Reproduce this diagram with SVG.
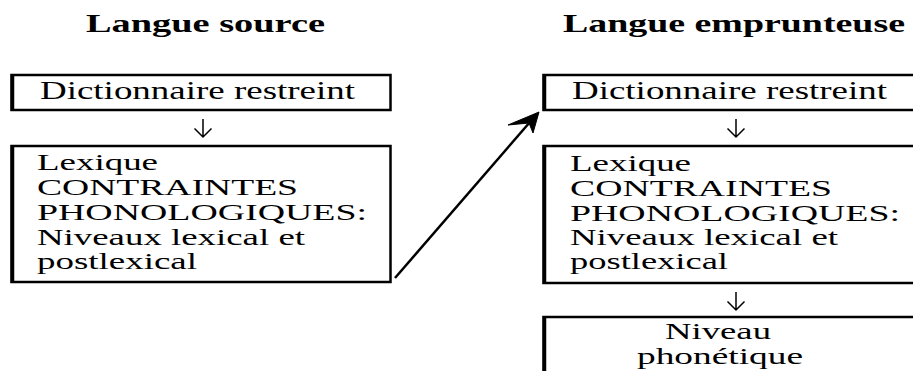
<svg xmlns="http://www.w3.org/2000/svg" width="913" height="371" viewBox="0 0 913 371">
<style>
text{font-family:'Liberation Serif','Times New Roman',Times,serif;fill:#000}
.t{font-size:24px}
.d{font-size:26px}
.h{font-size:25px;font-weight:bold}
.box{fill:#fff;stroke:#000;stroke-width:2.5}
.edge{stroke:#000;stroke-width:3.5}
.ln{fill:none;stroke:#000;stroke-width:1.5}
.diag{fill:none;stroke:#000;stroke-width:2.5}
</style>
<rect width="913" height="371" fill="#fff"/>
<text class="h" x="86" y="32" textLength="239" lengthAdjust="spacingAndGlyphs">Langue source</text>
<text class="h" x="563" y="32" textLength="342" lengthAdjust="spacingAndGlyphs">Langue emprunteuse</text>

<g id="src-dict">
<rect class="box" x="11.5" y="75" width="379" height="35"/>
<line class="edge" x1="12.5" y1="74" x2="12.5" y2="111"/>
<text class="d" x="40" y="99" textLength="315" lengthAdjust="spacingAndGlyphs">Dictionnaire restreint</text>
</g>
<g id="src-lex">
<rect class="box" x="11.5" y="146" width="379" height="136"/>
<line class="edge" x1="12.5" y1="145" x2="12.5" y2="283"/>
<text class="t" x="37" y="170" textLength="121" lengthAdjust="spacingAndGlyphs">Lexique</text>
<text class="t" x="37" y="195" textLength="261" lengthAdjust="spacingAndGlyphs">CONTRAINTES</text>
<text class="t" x="37" y="220" textLength="330" lengthAdjust="spacingAndGlyphs">PHONOLOGIQUES:</text>
<text class="t" x="37" y="245" textLength="268" lengthAdjust="spacingAndGlyphs">Niveaux lexical et</text>
<text class="t" x="37" y="269" textLength="160" lengthAdjust="spacingAndGlyphs">postlexical</text>
</g>
<g id="dst-dict">
<rect class="box" x="543.5" y="75" width="380" height="35"/>
<line class="edge" x1="544.5" y1="74" x2="544.5" y2="111"/>
<text class="d" x="572" y="99" textLength="315" lengthAdjust="spacingAndGlyphs">Dictionnaire restreint</text>
</g>
<g id="dst-lex">
<rect class="box" x="543.5" y="146" width="380" height="137"/>
<line class="edge" x1="544.5" y1="145" x2="544.5" y2="284"/>
<text class="t" x="570" y="171" textLength="121" lengthAdjust="spacingAndGlyphs">Lexique</text>
<text class="t" x="570" y="196" textLength="262" lengthAdjust="spacingAndGlyphs">CONTRAINTES</text>
<text class="t" x="570" y="221" textLength="330" lengthAdjust="spacingAndGlyphs">PHONOLOGIQUES:</text>
<text class="t" x="570" y="245" textLength="268" lengthAdjust="spacingAndGlyphs">Niveaux lexical et</text>
<text class="t" x="570" y="269" textLength="158" lengthAdjust="spacingAndGlyphs">postlexical</text>
</g>
<g id="dst-phon">
<rect class="box" x="543.5" y="317" width="380" height="70"/>
<line class="edge" x1="544.5" y1="316" x2="544.5" y2="371"/>
<text class="t" x="665" y="339" textLength="106" lengthAdjust="spacingAndGlyphs">Niveau</text>
<text class="t" x="637" y="364" textLength="166" lengthAdjust="spacingAndGlyphs">phonétique</text>
</g>

<g id="connectors">
<path class="ln" d="M203,119 V137 M194.5,128.5 L203,137 L211.5,128.5"/>
<path class="ln" d="M736,119 V137 M727.5,128.5 L736,137 L744.5,128.5"/>
<path class="ln" d="M736,292 V310 M727.5,301.5 L736,310 L744.5,301.5"/>
<path class="diag" d="M395,278 L530,122"/>
<path d="M539,112 L508,125 L529,123 L533,133 Z" fill="#000" stroke="#000" stroke-width="1"/>
</g>
</svg>
